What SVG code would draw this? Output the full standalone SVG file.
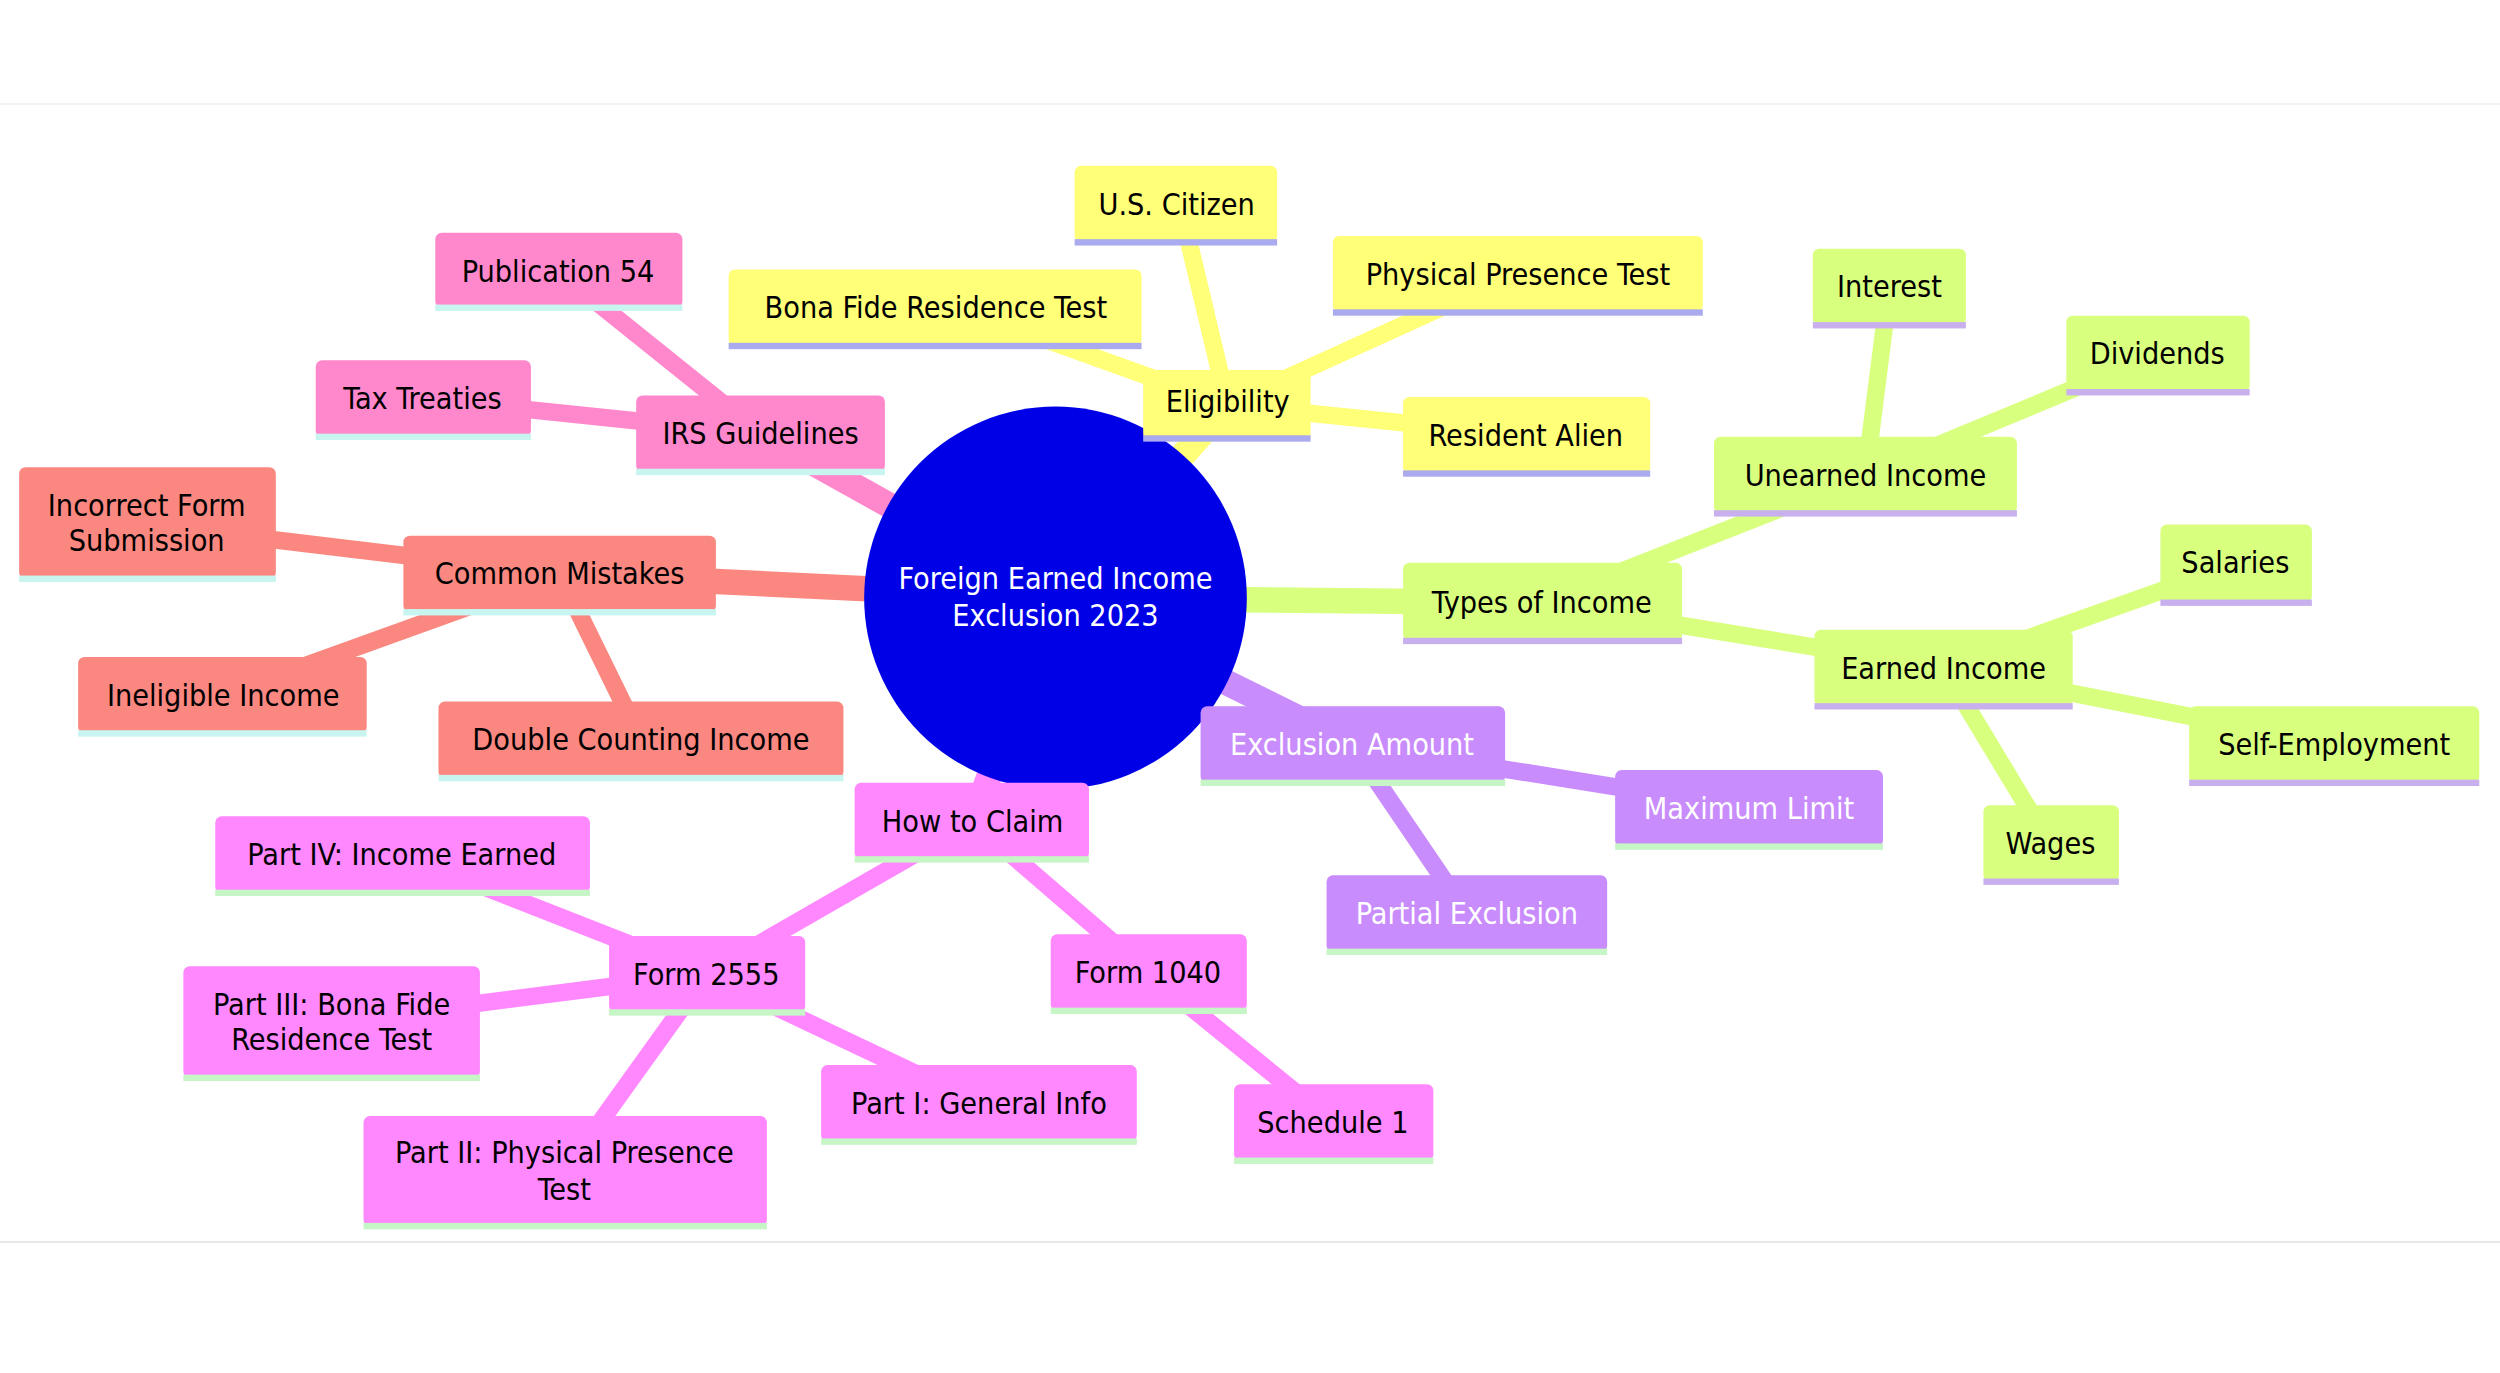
<svg xmlns="http://www.w3.org/2000/svg" width="2500" height="1373" viewBox="0 0 2500 1373">
<style>
text{font-family:"DejaVu Sans Condensed","DejaVu Sans","Liberation Sans",sans-serif;font-size:19px;text-anchor:middle;dominant-baseline:central;fill:#000}
.w{fill:#fff}
.y{fill:#ffff78}.g{fill:#d9ff7f}.p{fill:#c98cfc}.k{fill:#ff88ff}.s{fill:#fa8880}.r{fill:#ff88cc}
.bl{fill:#aaaaee}.bg{fill:#c6f5c6}.bc{fill:#c8f5f0}.bv{fill:#c8b0ee}
#edges line{stroke-linecap:round;stroke-width:11}
</style>
<rect width="2500" height="1373" fill="#fff"/>
<line x1="0" y1="104" x2="2500" y2="104" stroke="#f2f2f2" stroke-width="2"/>
<line x1="0" y1="1242" x2="2500" y2="1242" stroke="#e8e8e8" stroke-width="2"/>
<g transform="scale(1.5944)">
<g id="edges">
<g stroke="#ffff78"><line x1="662" y1="375" x2="770" y2="254" style="stroke-width:16"/><line x1="770" y1="254" x2="740" y2="128"/><line x1="770" y1="254" x2="600" y2="193"/><line x1="770" y1="254" x2="950" y2="172"/><line x1="770" y1="254" x2="957" y2="273"/></g>
<g stroke="#d9ff7f"><line x1="662" y1="375" x2="967" y2="378" style="stroke-width:16"/><line x1="967" y1="378" x2="1170" y2="298"/><line x1="1170" y1="298" x2="1185" y2="180"/><line x1="1170" y1="298" x2="1353" y2="222"/><line x1="967" y1="378" x2="1219" y2="419"/><line x1="1219" y1="419" x2="1402" y2="354"/><line x1="1219" y1="419" x2="1464" y2="467"/><line x1="1219" y1="419" x2="1286" y2="530"/></g>
<g stroke="#c98cfc"><line x1="662" y1="375" x2="848" y2="467" style="stroke-width:16"/><line x1="848" y1="467" x2="1097" y2="507"/><line x1="848" y1="467" x2="920" y2="573"/></g>
<g stroke="#ff88ff"><line x1="662" y1="375" x2="610" y2="515" style="stroke-width:16"/><line x1="610" y1="515" x2="443" y2="611"/><line x1="610" y1="515" x2="720" y2="610"/><line x1="720" y1="610" x2="836" y2="704"/><line x1="443" y1="611" x2="252" y2="536"/><line x1="443" y1="611" x2="208" y2="641"/><line x1="443" y1="611" x2="354" y2="735"/><line x1="443" y1="611" x2="614" y2="692"/></g>
<g stroke="#fa8880"><line x1="662" y1="375" x2="351" y2="360" style="stroke-width:16"/><line x1="351" y1="360" x2="92" y2="329"/><line x1="351" y1="360" x2="140" y2="436"/><line x1="351" y1="360" x2="402" y2="464"/></g>
<g stroke="#ff88cc"><line x1="662" y1="375" x2="477" y2="272" style="stroke-width:16"/><line x1="477" y1="272" x2="350" y2="170"/><line x1="477" y1="272" x2="265" y2="250"/></g>
</g>
<g id="root"><circle cx="662" cy="375" r="120" fill="#0000e6"/><text class="w" x="662" y="363">Foreign Earned Income</text><text class="w" x="662" y="386">Exclusion 2023</text></g>
<g id="eligibility"><rect class="y" x="717" y="232" width="105" height="44" rx="4"/><rect class="bl" x="717" y="273" width="105" height="4"/><text x="770" y="252">Eligibility</text></g>
<g id="citizen"><rect class="y" x="674" y="104" width="127" height="48" rx="4"/><rect class="bl" x="674" y="150" width="127" height="4"/><text x="738" y="128">U.S. Citizen</text></g>
<g id="bonafide"><rect class="y" x="457" y="169" width="259" height="48" rx="4"/><rect class="bl" x="457" y="215" width="259" height="4"/><text x="587" y="193">Bona Fide Residence Test</text></g>
<g id="physical"><rect class="y" x="836" y="148" width="232" height="48" rx="4"/><rect class="bl" x="836" y="194" width="232" height="4"/><text x="952" y="172">Physical Presence Test</text></g>
<g id="alien"><rect class="y" x="880" y="249" width="155" height="48" rx="4"/><rect class="bl" x="880" y="295" width="155" height="4"/><text x="957" y="273">Resident Alien</text></g>
<g id="types"><rect class="g" x="880" y="353" width="175" height="49" rx="4"/><rect class="bv" x="880" y="400" width="175" height="4"/><text x="967" y="378">Types of Income</text></g>
<g id="unearned"><rect class="g" x="1075" y="274" width="190" height="48" rx="4"/><rect class="bv" x="1075" y="320" width="190" height="4"/><text x="1170" y="298">Unearned Income</text></g>
<g id="interest"><rect class="g" x="1137" y="156" width="96" height="48" rx="4"/><rect class="bv" x="1137" y="202" width="96" height="4"/><text x="1185" y="180">Interest</text></g>
<g id="dividends"><rect class="g" x="1296" y="198" width="115" height="48" rx="4"/><rect class="bv" x="1296" y="244" width="115" height="4"/><text x="1353" y="222">Dividends</text></g>
<g id="earned"><rect class="g" x="1138" y="395" width="162" height="48" rx="4"/><rect class="bv" x="1138" y="441" width="162" height="4"/><text x="1219" y="419">Earned Income</text></g>
<g id="salaries"><rect class="g" x="1355" y="329" width="95" height="49" rx="4"/><rect class="bv" x="1355" y="376" width="95" height="4"/><text x="1402" y="353">Salaries</text></g>
<g id="selfemp"><rect class="g" x="1373" y="443" width="182" height="48" rx="4"/><rect class="bv" x="1373" y="489" width="182" height="4"/><text x="1464" y="467">Self-Employment</text></g>
<g id="wages"><rect class="g" x="1244" y="505" width="85" height="48" rx="4"/><rect class="bv" x="1244" y="551" width="85" height="4"/><text x="1286" y="529">Wages</text></g>
<g id="exclusion"><rect class="p" x="753" y="443" width="191" height="48" rx="4"/><rect class="bg" x="753" y="489" width="191" height="4"/><text class="w" x="848" y="467">Exclusion Amount</text></g>
<g id="maxlimit"><rect class="p" x="1013" y="483" width="168" height="48" rx="4"/><rect class="bg" x="1013" y="529" width="168" height="4"/><text class="w" x="1097" y="507">Maximum Limit</text></g>
<g id="partial"><rect class="p" x="832" y="549" width="176" height="48" rx="4"/><rect class="bg" x="832" y="595" width="176" height="4"/><text class="w" x="920" y="573">Partial Exclusion</text></g>
<g id="howto"><rect class="k" x="536" y="491" width="147" height="48" rx="4"/><rect class="bg" x="536" y="537" width="147" height="4"/><text x="610" y="515">How to Claim</text></g>
<g id="form2555"><rect class="k" x="382" y="587" width="123" height="48" rx="4"/><rect class="bg" x="382" y="633" width="123" height="4"/><text x="443" y="611">Form 2555</text></g>
<g id="form1040"><rect class="k" x="659" y="586" width="123" height="48" rx="4"/><rect class="bg" x="659" y="632" width="123" height="4"/><text x="720" y="610">Form 1040</text></g>
<g id="schedule1"><rect class="k" x="774" y="680" width="125" height="48" rx="4"/><rect class="bg" x="774" y="726" width="125" height="4"/><text x="836" y="704">Schedule 1</text></g>
<g id="part1"><rect class="k" x="515" y="668" width="198" height="48" rx="4"/><rect class="bg" x="515" y="714" width="198" height="4"/><text x="614" y="692">Part I: General Info</text></g>
<g id="part2"><rect class="k" x="228" y="700" width="253" height="69" rx="4"/><rect class="bg" x="228" y="767" width="253" height="4"/><text x="354" y="723">Part II: Physical Presence</text><text x="354" y="746">Test</text></g>
<g id="part3"><rect class="k" x="115" y="606" width="186" height="70" rx="4"/><rect class="bg" x="115" y="674" width="186" height="4"/><text x="208" y="630">Part III: Bona Fide</text><text x="208" y="652">Residence Test</text></g>
<g id="part4"><rect class="k" x="135" y="512" width="235" height="48" rx="4"/><rect class="bg" x="135" y="558" width="235" height="4"/><text x="252" y="536">Part IV: Income Earned</text></g>
<g id="mistakes"><rect class="s" x="253" y="336" width="196" height="48" rx="4"/><rect class="bc" x="253" y="382" width="196" height="4"/><text x="351" y="360">Common Mistakes</text></g>
<g id="incorrect"><rect class="s" x="12" y="293" width="161" height="70" rx="4"/><rect class="bc" x="12" y="361" width="161" height="4"/><text x="92" y="317">Incorrect Form</text><text x="92" y="339">Submission</text></g>
<g id="ineligible"><rect class="s" x="49" y="412" width="181" height="48" rx="4"/><rect class="bc" x="49" y="458" width="181" height="4"/><text x="140" y="436">Ineligible Income</text></g>
<g id="double"><rect class="s" x="275" y="440" width="254" height="48" rx="4"/><rect class="bc" x="275" y="486" width="254" height="4"/><text x="402" y="464">Double Counting Income</text></g>
<g id="irs"><rect class="r" x="399" y="248" width="156" height="48" rx="4"/><rect class="bc" x="399" y="294" width="156" height="4"/><text x="477" y="272">IRS Guidelines</text></g>
<g id="pub54"><rect class="r" x="273" y="146" width="155" height="47" rx="4"/><rect class="bc" x="273" y="191" width="155" height="4"/><text x="350" y="170">Publication 54</text></g>
<g id="treaties"><rect class="r" x="198" y="226" width="135" height="48" rx="4"/><rect class="bc" x="198" y="272" width="135" height="4"/><text x="265" y="250">Tax Treaties</text></g>
</g>
</svg>
